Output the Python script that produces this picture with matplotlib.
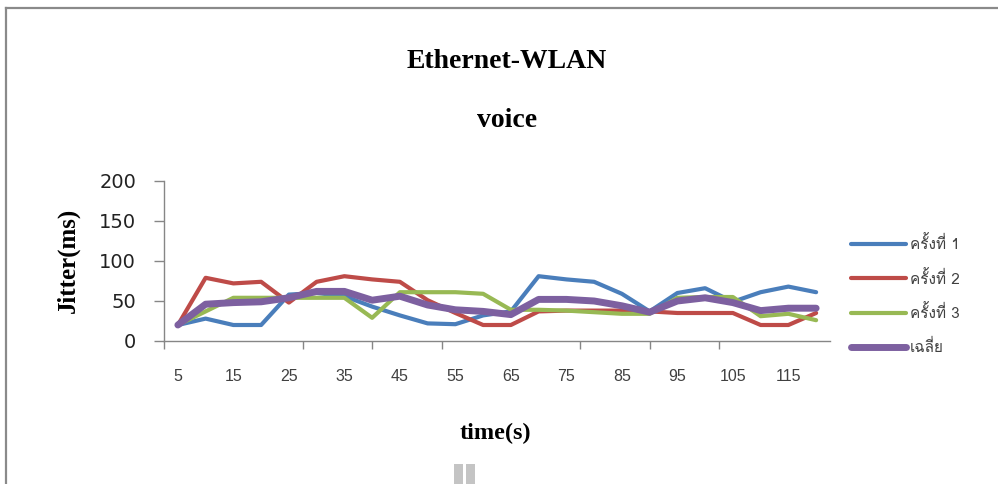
import matplotlib
matplotlib.use("Agg")
import matplotlib.pyplot as plt
from matplotlib import font_manager
from matplotlib.ft2font import FT2Font
from matplotlib.lines import Line2D
from matplotlib.patches import Rectangle

# data
time_s = [5, 10, 15, 20, 25, 30, 35, 40, 45, 50, 55, 60,
          65, 70, 75, 80, 85, 90, 95, 100, 105, 110, 115, 120]
run_1 = [20, 28, 20, 20, 58, 60, 56, 43, 32, 22, 21, 32,
         37, 81, 77, 74, 59, 37, 60, 66, 49, 61, 68, 61]
run_2 = [20, 79, 72, 74, 48, 74, 81, 77, 74, 51, 35, 20,
         20, 37, 38, 38, 38, 37, 35, 35, 35, 20, 20, 35]
run_3 = [20, 37, 54, 54, 54, 54, 54, 29, 61, 61, 61, 59,
         39, 39, 38, 36, 34, 34, 54, 55, 55, 31, 34, 26]
average = [20, 46, 48, 49, 54, 62, 62, 51, 56, 45, 39, 37,
           33, 52, 52, 50, 44, 36, 50, 54, 48, 38, 41, 41]
series_names = ['ครั้งที่ 1', 'ครั้งที่ 2', 'ครั้งที่ 3', 'เฉลี่ย']
colors = ['#4A7EBB', '#BE4B48', '#98B954', '#7D60A0']
y_ticks = [0, 50, 100, 150, 200]
x_labels = [5, 15, 25, 35, 45, 55, 65, 75, 85, 95, 105, 115]


def find_thai_font():
    # look for any installed font that has Thai glyphs
    for f in font_manager.fontManager.ttflist:
        try:
            if 0x0E04 in FT2Font(f.fname).get_charmap():
                return f.name
        except Exception:
            pass
    return None


thai = find_thai_font()
thai_family = [thai, 'DejaVu Sans'] if thai else ['DejaVu Sans']

W, H = 998, 484
fig = plt.figure(figsize=(W / 100, H / 100), dpi=100)
ax = fig.add_axes([164 / W, 1 - 341 / H, (830 - 164) / W, (341 - 181) / H])

widths = [3, 3, 3, 5]
for vals, name, c, lw in zip([run_1, run_2, run_3, average], series_names, colors, widths):
    ax.plot(time_s, vals, color=c, lw=lw, label=name,
            solid_joinstyle='round', solid_capstyle='round')

ax.set_xlim(2.5, 122.5)
ax.set_ylim(0, 200)
ax.set_yticks(y_ticks)
ax.set_xticks(x_labels)
ax.set_xticks([2.5 + 12.5 * k for k in range(10)], minor=True)
ax.tick_params(axis='x', which='major', length=0, pad=20, labelsize=11.5, labelcolor='#404040')
ax.tick_params(axis='x', which='minor', length=6, width=1, color='#868686', direction='out')
ax.tick_params(axis='y', length=7, width=1, color='#868686', pad=13, labelsize=14, labelcolor='#222222')
for lab in ax.get_xticklabels():
    lab.set_family('Liberation Sans')
for s in ['top', 'right']:
    ax.spines[s].set_visible(False)
for s in ['left', 'bottom']:
    ax.spines[s].set_color('#868686')
    ax.spines[s].set_linewidth(1)

# titles and axis names
fig.text(507 / W, 1 - 61 / H, 'Ethernet-WLAN', ha='center', va='center',
         family='Liberation Serif', weight='bold', fontsize=20)
fig.text(507 / W, 1 - 120 / H, 'voice', ha='center', va='center',
         family='Liberation Serif', weight='bold', fontsize=20)
fig.text(68 / W, 1 - 260 / H, 'Jitter(ms)', ha='center', va='center', rotation=90,
         family='Liberation Serif', weight='bold', fontsize=18)
fig.text(495 / W, 1 - 433 / H, 'time(s)', ha='center', va='center',
         family='Liberation Serif', weight='bold', fontsize=17.5)

leg = fig.legend(loc='center left', bbox_to_anchor=(851 / W, 1 - 295 / H),
                 frameon=False, borderpad=0, borderaxespad=0,
                 handlelength=3.6, handletextpad=0.25, labelspacing=1.15,
                 prop={'family': thai_family, 'size': 11})
for t in leg.get_texts():
    t.set_color('#404040')

# chart frame (left and top edge only are visible) and the small handle below
frame = '#8a8a8a'
fig.add_artist(Line2D([6 / W, 6 / W], [0, 1 - 8 / H], transform=fig.transFigure, color=frame, lw=1.6))
fig.add_artist(Line2D([6 / W, 1], [1 - 8 / H, 1 - 8 / H], transform=fig.transFigure, color=frame, lw=1.6))
for x0 in [454, 466]:
    fig.add_artist(Rectangle((x0 / W, 0), 9 / W, 20 / H, transform=fig.transFigure,
                             color='#c4c4c4', lw=0))

fig.savefig('out.png', dpi=100)
